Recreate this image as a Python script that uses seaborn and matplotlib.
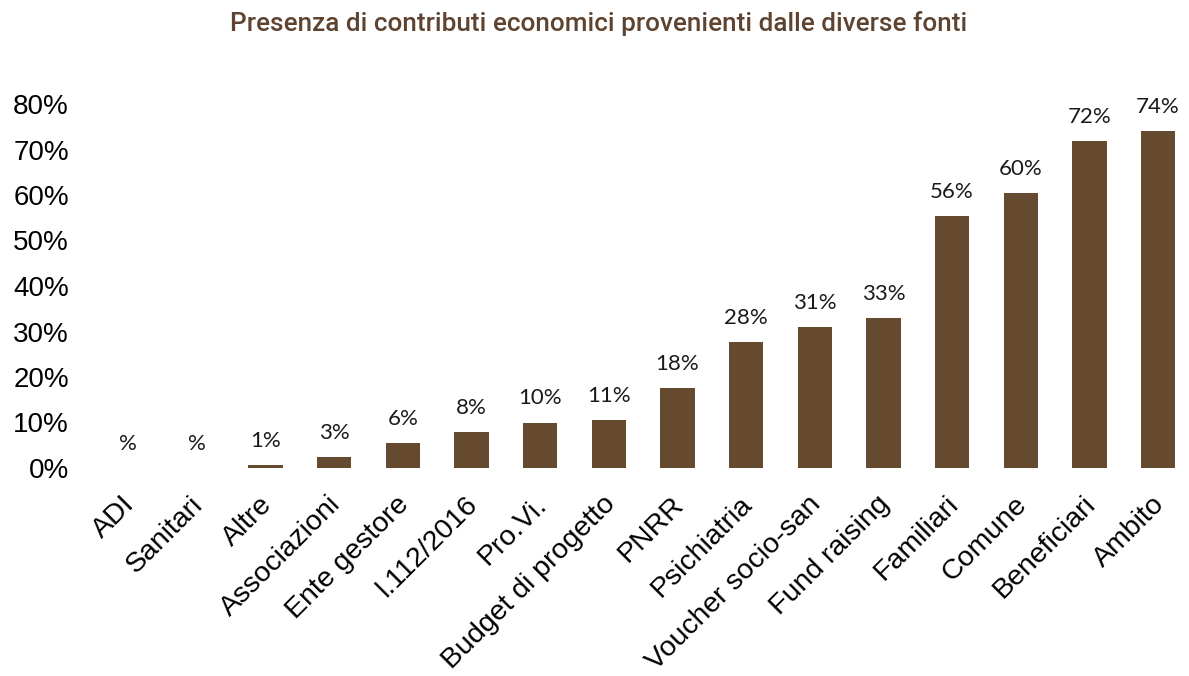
import matplotlib
matplotlib.use("Agg")
import matplotlib.pyplot as plt
import matplotlib.transforms as mtransforms
import seaborn as sns
import pandas as pd
from matplotlib.ticker import FixedLocator, FuncFormatter

categories = ["ADI", "Sanitari", "Altre", "Associazioni", "Ente gestore", "l.112/2016",
              "Pro.Vi.", "Budget di progetto", "PNRR", "Psichiatria", "Voucher socio-san",
              "Fund raising", "Familiari", "Comune", "Beneficiari", "Ambito"]
values = [0.0, 0.0, 0.6, 2.5, 5.5, 8.0, 10.0, 10.6, 17.6, 27.7, 31.0, 33.0, 55.4, 60.4, 71.9, 74.0]
bar_labels = ["%", "%", "1%", "3%", "6%", "8%", "10%", "11%", "18%", "28%", "31%", "33%",
              "56%", "60%", "72%", "74%"]
y_ticks = [0, 10, 20, 30, 40, 50, 60, 70, 80]
title = "Presenza di contributi economici provenienti dalle diverse fonti"

bar_color = "#654a30"
title_color = "#5e4430"

sns.set_theme(style="white")
plt.rcParams['font.family'] = ['Liberation Sans', 'DejaVu Sans']

fig = plt.figure(figsize=(11.89, 6.76), dpi=100)
W, H = 1189, 676
left_px, right_px = 94, 1189
bottom_px, top_px = 468, 104
ax = fig.add_axes([left_px / W, 1 - bottom_px / H, (right_px - left_px) / W, (bottom_px - top_px) / H])

df = pd.DataFrame({"cat": categories, "val": values})
sns.barplot(data=df, x="cat", y="val", order=categories, color=bar_color,
            saturation=1, width=0.5, linewidth=0, ax=ax)

ax.set_xlim(-0.5, 15.45)
ax.set_ylim(0, 80)
ax.yaxis.set_major_locator(FixedLocator(y_ticks))
ax.yaxis.set_major_formatter(FuncFormatter(lambda v, p: f"{int(v)}%"))
ax.tick_params(axis="y", length=0, pad=18, labelsize=20, colors="black")
ax.tick_params(axis="x", length=0, pad=6, labelsize=20.5, colors="black")
shift = mtransforms.ScaledTranslation(-7 / 100, -15 / 100, fig.dpi_scale_trans)
for lab in ax.get_xticklabels():
    lab.set_rotation(45)
    lab.set_ha("right")
    lab.set_va("top")
    lab.set_rotation_mode("anchor")
    lab.set_transform(lab.get_transform() + shift)
ax.set_xlabel("")
ax.set_ylabel("")
for s in ax.spines.values():
    s.set_visible(False)
ax.grid(False)

for patch, lab in zip(ax.patches, bar_labels):
    x = patch.get_x() + patch.get_width() / 2
    h = patch.get_height()
    ax.annotate(lab, (x, h), xytext=(0, 13), textcoords="offset points",
                ha="center", va="baseline", fontsize=16, family=["Lato", "DejaVu Sans"],
                color="#1a1a1a", annotation_clip=False)

fig.text(599 / W, 1 - 24 / H, title, ha="center", va="center", fontsize=18.8,
         family=["Roboto", "DejaVu Sans"], fontweight="medium",
         color=title_color)

fig.savefig("out.png", dpi=100)
